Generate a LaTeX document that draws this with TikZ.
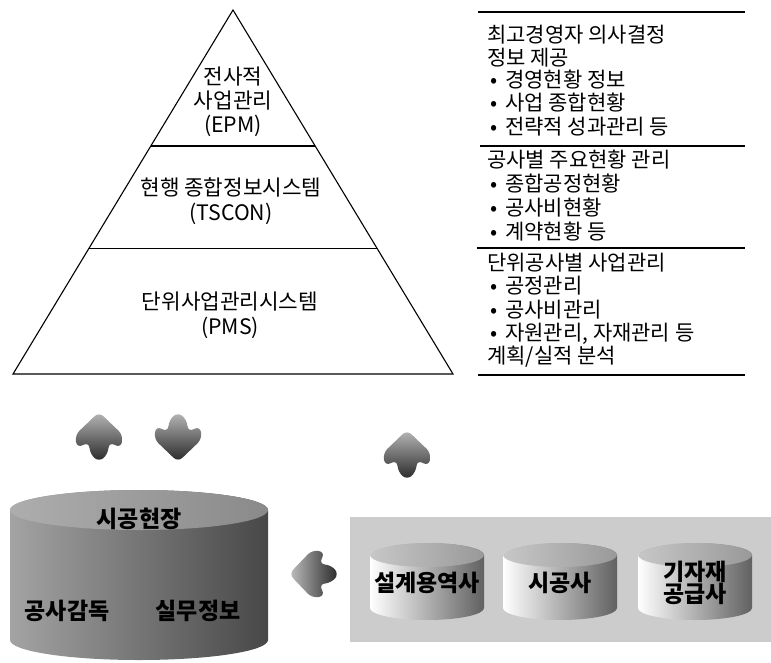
\documentclass[tikz,border=0pt]{standalone}
\usepackage{fontspec}
\usetikzlibrary{calc}
\setmainfont{Noto Sans CJK KR}
\newcommand\bul{\makebox[15pt][l]{•}}
\newcommand\fatarrow[6]{% name cx cy ux uy shadeopts
  \foreach \a/\b [count=\i] in {25/0, 2/-24, -11/-22, -5/-10, -17/-9, -25/0, -17/9, -5/10, -11/22, 2/24}{
    \coordinate (#1\i) at ({#2+\a*#4-\b*#5},{#3+\a*#5+\b*#4});}
  \shade[#6, rounded corners=6pt] (#11) -- (#12) -- (#13) -- (#14) -- (#15) -- (#16) -- (#17) -- (#18) -- (#19) -- (#110) -- cycle;
}
\newcommand\smallcyl[3]{% name cx text
  \shade[left color=white, middle color=black!18, right color=black!62]
    ({#2-57},555) -- ({#2-57},608) arc[start angle=180, end angle=360, x radius=57pt, y radius=12pt]
    -- ({#2+57},555) arc[start angle=0, end angle=180, x radius=57pt, y radius=12pt] -- cycle;
  \shade[left color=black!22, right color=black!40] (#2,555) ellipse[x radius=57pt, y radius=12pt];
  \node[cyltext] (#1) at (#2,583) {#3};
}
\begin{document}
\begin{tikzpicture}[x=1pt,y=-1pt,
  rule/.style={line width=1.1pt, black},
  ln/.style={anchor=base west, inner sep=0pt, font=\fontsize{21pt}{24pt}\selectfont},
  pyr/.style={anchor=base, inner sep=0pt, font=\fontsize{21.3pt}{24pt}\selectfont},
  cyltext/.style={inner sep=0pt, align=center, font=\fontsize{23pt}{26pt}\selectfont\bfseries},
  darr/.style={top color=black!28, bottom color=black!85},
]
\useasboundingbox (0,0) rectangle (771,662);

% pyramid
\coordinate (apex) at (233,10);
\coordinate (bl) at (13,374);
\coordinate (br) at (453,374);
\draw[rule, line join=miter] (apex) -- (bl) -- (br) -- cycle;
\draw[rule] ($(apex)!0.3736!(bl)$) -- ($(apex)!0.3736!(br)$);
\draw[rule] ($(apex)!0.654!(bl)$) -- ($(apex)!0.654!(br)$);

\node[pyr] (p1) at (233,84) {전사적};
\node[pyr] (p2) at (233,108) {사업관리};
\node[pyr] (p3) at (233,132) {(EPM)};
\node[pyr] (p4) at (231,195) {현행 종합정보시스템};
\node[pyr] (p5) at (231,220) {(TSCON)};
\node[pyr] (p6) at (230,309) {단위사업관리시스템};
\node[pyr] (p7) at (230,334) {(PMS)};

% right column rules
\foreach \yy/\xs in {12/478, 146/480, 248/477, 375/478}{
  \draw[rule] (\xs,\yy) -- (745,\yy);
}
% right column text
\node[ln] (t1) at (487,42) {최고경영자 의사결정};
\node[ln] (t2) at (487,65) {정보 제공};
\node[ln] (t3) at (490,87) {\bul 경영현황 정보};
\node[ln] (t4) at (490,110) {\bul 사업 종합현황};
\node[ln] (t5) at (490,134) {\bul 전략적 성과관리 등};
\node[ln] (t6) at (487,167) {공사별 주요현황 관리};
\node[ln] (t7) at (490,191) {\bul 종합공정현황};
\node[ln] (t8) at (490,215) {\bul 공사비현황};
\node[ln] (t9) at (490,239) {\bul 계약현황 등};
\node[ln] (t10) at (487,270) {단위공사별 사업관리};
\node[ln] (t11) at (490,293) {\bul 공정관리};
\node[ln] (t12) at (490,317) {\bul 공사비관리};
\node[ln] (t13) at (490,340) {\bul 자원관리, 자재관리 등};
\node[ln] (t14) at (487,363) {계획/실적 분석};

% fat arrows
\fatarrow{aa}{99}{437}{0}{-1}{darr}
\fatarrow{ab}{178}{437}{0}{1}{darr}
\fatarrow{ac}{407}{455}{0}{-1}{darr}
\fatarrow{ad}{314}{574}{-1}{0}{left color=black!25, right color=black!85}

% big cylinder
\shade[left color=black!36, middle color=black!42, right color=black!72]
  (10,510) -- (10,640) arc[start angle=180, end angle=360, x radius=129pt, y radius=20pt]
  -- (268,510) arc[start angle=0, end angle=180, x radius=129pt, y radius=20pt] -- cycle;
\shade[left color=black!32, right color=black!46] (139,510) ellipse[x radius=129pt, y radius=20pt];
\node[cyltext] (site) at (139,519) {시공현장};
\node[cyltext] (sup) at (67,611) {공사감독};
\node[cyltext] (info) at (198,611) {실무정보};

% partner panel
\fill[black!20] (350,517) rectangle (771,642);
\smallcyl{c1}{427}{설계용역사}
\smallcyl{c2}{560}{시공사}
\smallcyl{c3}{695}{기자재\\[-4pt]공급사}
\end{tikzpicture}
\end{document}
